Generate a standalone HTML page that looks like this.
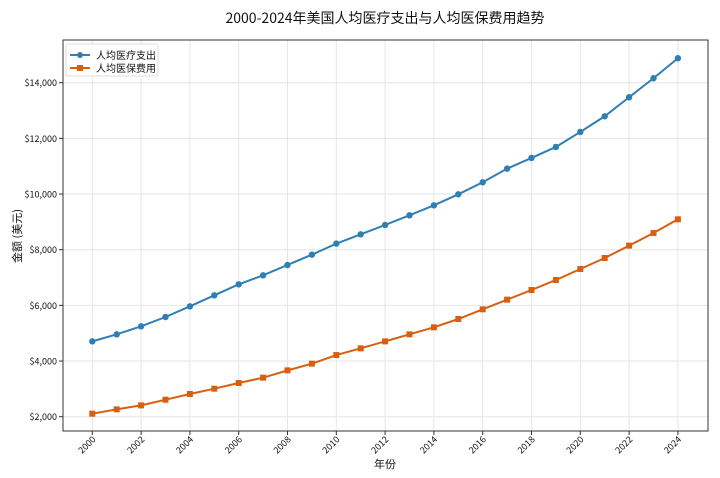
<!DOCTYPE html>
<html><head><meta charset="utf-8"><style>
body{margin:0;background:#fff;}
svg{display:block;font-family:"Noto Sans CJK SC","Liberation Sans",sans-serif;}
</style></head><body>
<svg id="chart" width="720" height="478" viewBox="0 0 720 478">
<text x="385" y="23" text-anchor="middle" font-size="14" fill="#111">2000-2024年美国人均医疗支出与人均医保费用趋势</text>
<g id="grid"></g>
<g id="axes"></g>
<g id="series"></g>
<rect x="63" y="40" width="645" height="391" fill="none" stroke="#333" stroke-width="1"/>
<text transform="translate(21,236) rotate(-90)" text-anchor="middle" font-size="11" fill="#111">金额 (美元)</text>
<text x="385" y="468" text-anchor="middle" font-size="11" fill="#111">年份</text>
<g>
<rect x="66" y="44" width="92" height="32" fill="#fff" stroke="#ddd" rx="2"/>
<line x1="70" y1="55" x2="90" y2="55" stroke="#2f7fb5" stroke-width="2"/><circle cx="80" cy="55" r="3" fill="#2f7fb5"/>
<text x="96" y="59" font-size="10" fill="#111">人均医疗支出</text>
<line x1="70" y1="68" x2="90" y2="68" stroke="#d95f0e" stroke-width="2"/><rect x="77" y="65" width="6" height="6" fill="#d95f0e"/>
<text x="96" y="72" font-size="10" fill="#111">人均医保费用</text>
</g>
</svg>
<script>
const years=[2000,2001,2002,2003,2004,2005,2006,2007,2008,2009,2010,2011,2012,2013,2014,2015,2016,2017,2018,2019,2020,2021,2022,2023,2024];
const spending=[4707,4959,5247,5582,5965,6361,6756,7080,7451,7822,8218,8553,8889,9236,9595,9991,10422,10913,11297,11692,12231,12794,13477,14160,14879];
const premium=[2108,2264,2407,2611,2815,3006,3210,3402,3665,3905,4216,4456,4707,4959,5211,5510,5858,6205,6552,6912,7307,7702,8146,8601,9092];
const yTicks=[2000,4000,6000,8000,10000,12000,14000];
const xTicks=[2000,2002,2004,2006,2008,2010,2012,2014,2016,2018,2020,2022,2024];
const NS="http://www.w3.org/2000/svg";
const xs=v=>92.3+(v-2000)*24.4;
const ys=v=>416.7-(v-2000)*0.027833;
function mk(t,a,p){const e=document.createElementNS(NS,t);for(const k in a)e.setAttribute(k,a[k]);p.appendChild(e);return e;}
const grid=document.getElementById('grid'),axes=document.getElementById('axes'),ser=document.getElementById('series');
yTicks.forEach(v=>{
 const l=mk('line',{x1:63,x2:708,y1:ys(v),y2:ys(v),stroke:'#e6e6e6','stroke-width':1},grid);
 
 
 mk('line',{x1:59,x2:63,y1:ys(v),y2:ys(v),stroke:'#333'},axes);
 const t=mk('text',{x:57,y:ys(v)+3.5,'text-anchor':'end','font-size':9,fill:'#111'},axes);
 t.textContent='$'+v.toLocaleString('en-US');
 
 
});
xTicks.forEach(v=>{
 const l=mk('line',{x1:xs(v),x2:xs(v),y1:40,y2:431,stroke:'#e6e6e6','stroke-width':1},grid);
 
 
 mk('line',{x1:xs(v),x2:xs(v),y1:431,y2:435,stroke:'#333'},axes);
 const t=mk('text',{x:0,y:0,'text-anchor':'end','font-size':9,fill:'#111',transform:`translate(${xs(v)+4},440) rotate(-45)`},axes);
 t.textContent=v;
 
 
});
function line(vals,color,name,sq){
 const p=mk('polyline',{points:vals.map((v,i)=>xs(years[i])+','+ys(v)).join(' '),fill:'none',stroke:color,'stroke-width':2},ser);
 
 
 vals.forEach((v,i)=>{
  const m=sq?mk('rect',{x:xs(years[i])-3,y:ys(v)-3,width:6,height:6,fill:color},ser):mk('circle',{cx:xs(years[i]),cy:ys(v),r:3.2,fill:color},ser);
  
  
 });
}
line(spending,'#2f7fb5','spending',false);
line(premium,'#d95f0e','premium',true);
</script>
</body></html>
